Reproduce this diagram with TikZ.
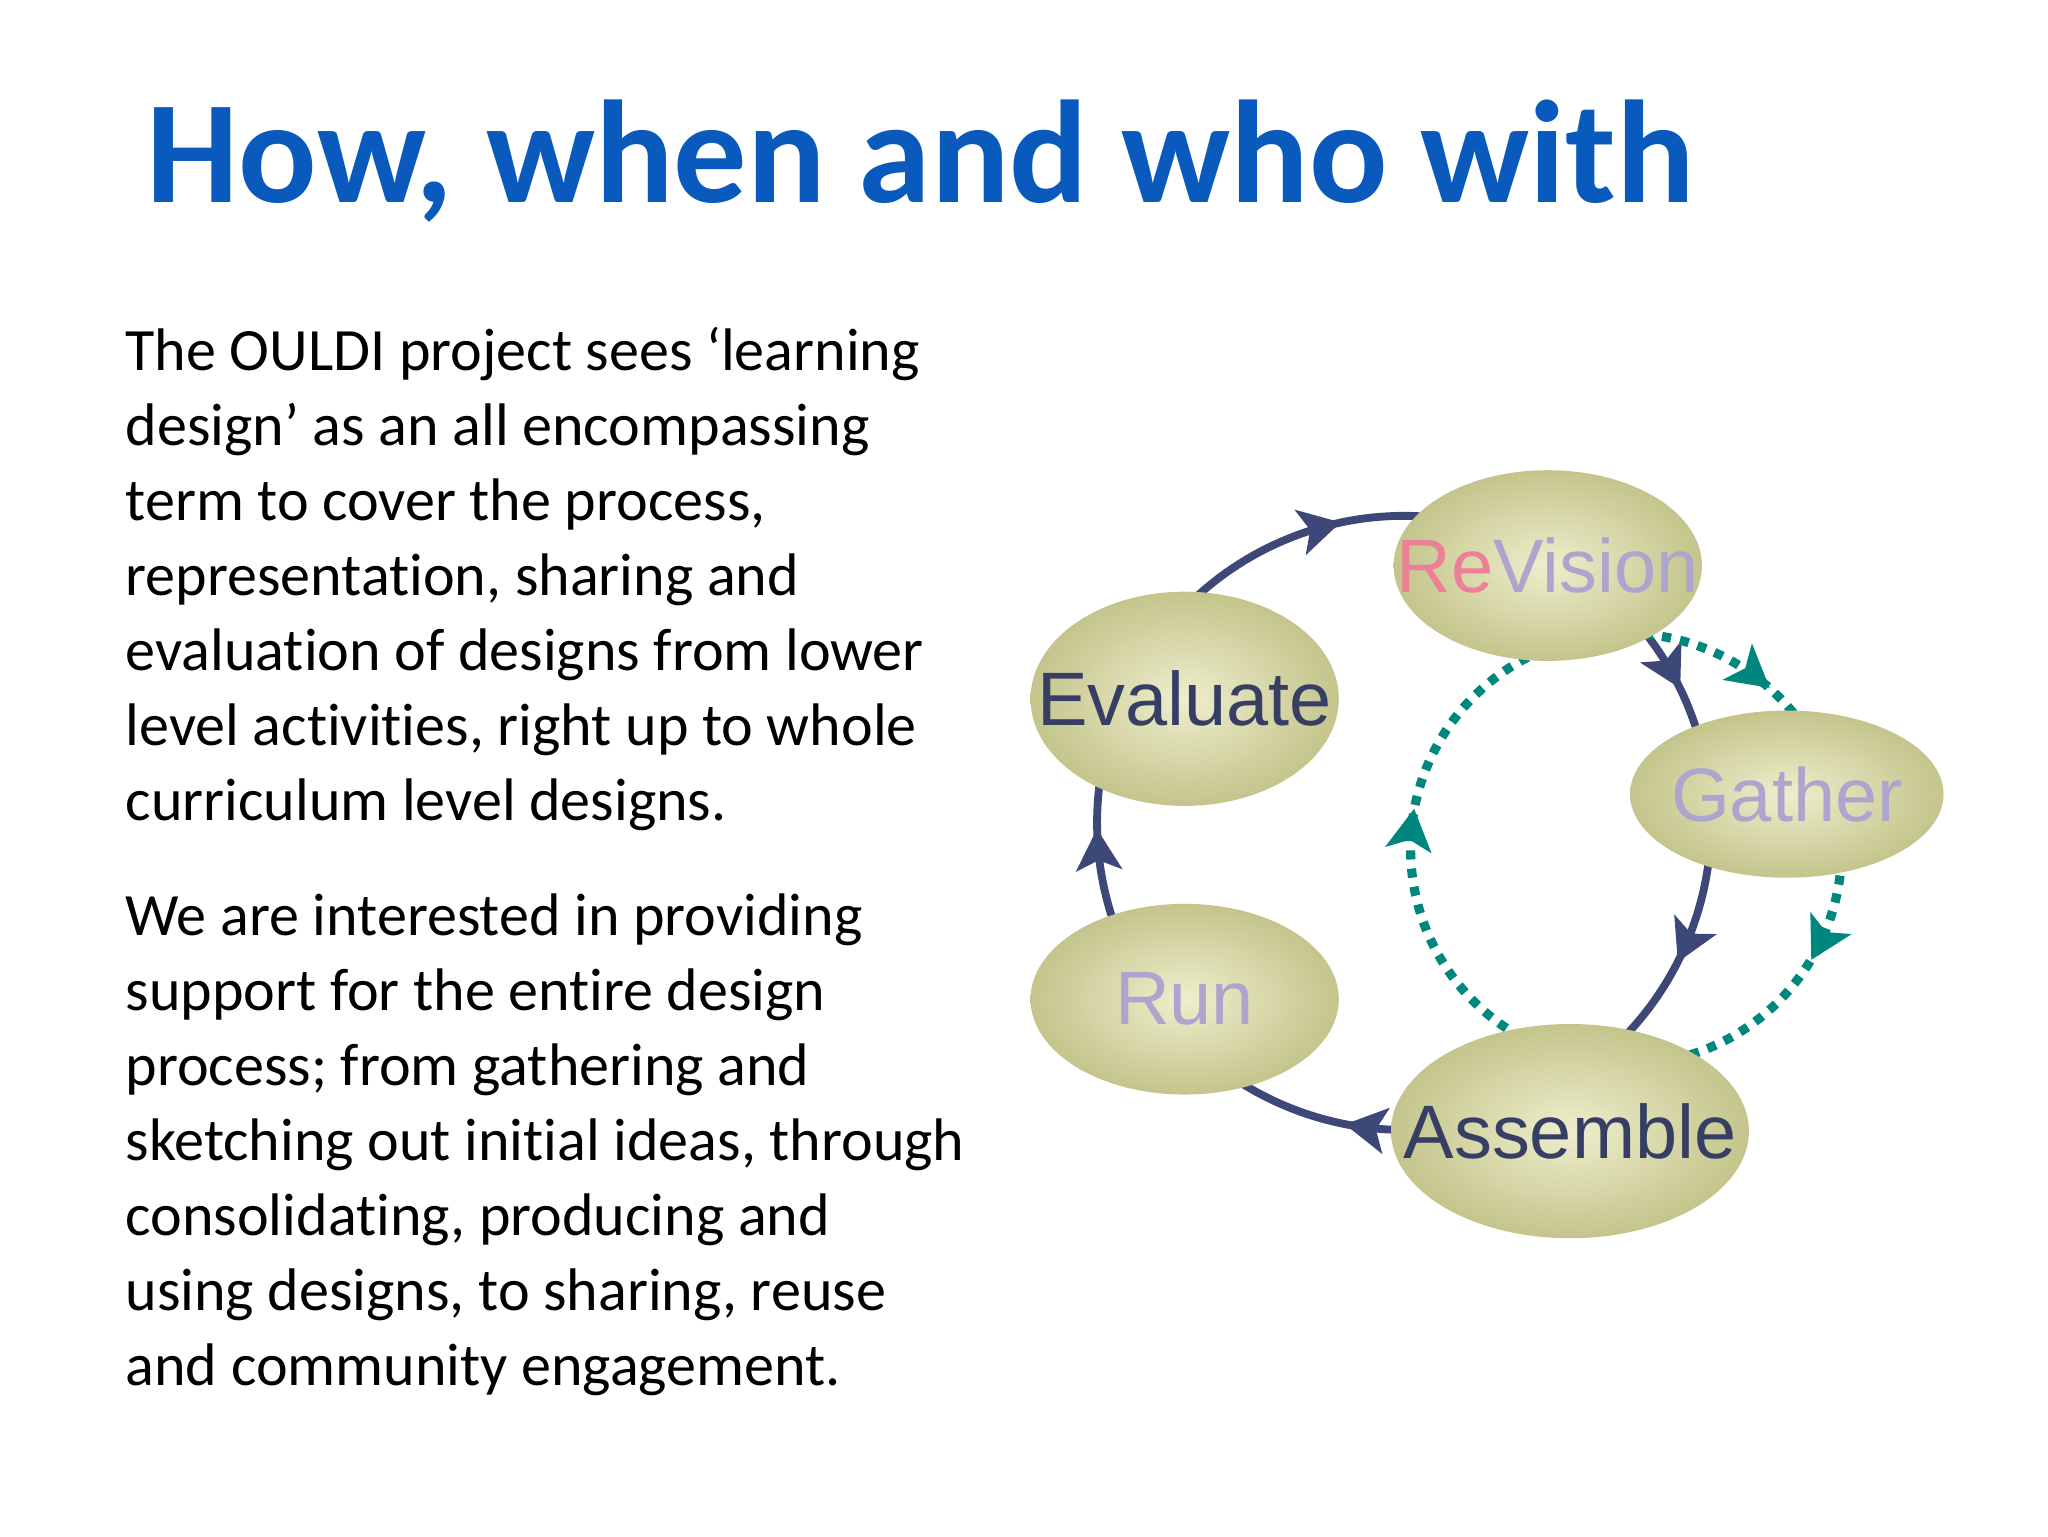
\documentclass[tikz,border=0pt]{standalone}
\usepackage{fontspec}
\setmainfont{Carlito}[RawFeature=-liga]
\newfontfamily\arialf{Liberation Sans}
\usetikzlibrary{decorations.markings}
\definecolor{titleblue}{RGB}{10,90,190}
\definecolor{navy}{RGB}{62,72,120}
\definecolor{tealc}{RGB}{0,135,125}
\definecolor{khaki}{RGB}{196,196,140}
\definecolor{khakil}{RGB}{238,238,205}
\definecolor{lav}{RGB}{172,165,205}
\definecolor{pinkc}{RGB}{236,128,150}
\definecolor{dtext}{RGB}{55,62,100}
\tikzset{
  line/.style={anchor=base west,inner sep=0pt,font=\fontsize{46}{50}\selectfont},
  blobtext/.style={inner sep=0pt,font=\arialf\fontsize{58}{58}\selectfont},
  blobfill/.style={inner color=khakil,outer color=khaki},
}
\newcommand{\arrmark}[1]{\fill[#1] (8,0) -- (-24,-18) -- (-16,0) -- (-24,18) -- cycle;}
\begin{document}
\begin{tikzpicture}[x=1pt,y=-1pt]
\useasboundingbox (0,0) rectangle (1568,1176);
\fill[white] (0,0) rectangle (1568,1176);
\node[anchor=base west,inner sep=0pt,text=titleblue,font=\bfseries\fontsize{112}{112}\selectfont] (title) at (112,155) {How, when and who with};
\foreach \t [count=\i from 0] in {The OULDI project sees ‘learning,design’ as an all encompassing,term to cover the process{,},representation{,} sharing and,evaluation of designs from lower,level activities{,} right up to whole,curriculum level designs.}
  \node[line] (pa\i) at (96,{284+57.4*\i}) {\t};
\foreach \t [count=\i from 0] in {We are interested in providing,support for the entire design,process; from gathering and,sketching out initial ideas{,} through,consolidating{,} producing and,using designs{,} to sharing{,} reuse,and community engagement.}
  \node[line] (pb\i) at (96,{716+57.4*\i}) {\t};
% navy cycle
\draw[navy,line width=6pt,postaction={decorate},decoration={markings,
  mark=at position 0.047 with {\arrmark{navy}},
  mark=at position 0.267 with {\arrmark{navy}},
  mark=at position 0.478 with {\arrmark{navy}},
  mark=at position 0.625 with {\arrmark{navy}},
  mark=at position 0.831 with {\arrmark{navy}}}]
  (1075,630) ++(-200:235) arc[start angle=-200,end angle=160,radius=235];
% teal dotted cycle
\draw[tealc,line width=7pt,dash pattern=on 7pt off 7pt,postaction={decorate},decoration={markings,
  mark=at position 0.122 with {\arrmark{tealc}},
  mark=at position 0.342 with {\arrmark{tealc}},
  mark=at position 0.786 with {\arrmark{tealc}}}]
  (1245,650) ++(-95:165) arc[start angle=-95,end angle=265,radius=165];
% ellipses
\shade[blobfill] (1185,433) ellipse[x radius=118,y radius=73];
\shade[blobfill] (907,535) ellipse[x radius=118,y radius=82];
\shade[blobfill] (1368,608) ellipse[x radius=120,y radius=64];
\shade[blobfill] (907,765) ellipse[x radius=118,y radius=73];
\shade[blobfill] (1202,866) ellipse[x radius=137,y radius=82];
\node[blobtext] (rev) at (1185,433) {\textcolor{pinkc}{Re}\textcolor{lav}{Vision}};
\node[blobtext,text=dtext] (eva) at (907,535) {Evaluate};
\node[blobtext,text=lav] (gat) at (1368,608) {Gather};
\node[blobtext,text=lav] (run) at (907,765) {Run};
\node[blobtext,text=dtext] (ass) at (1202,866) {Assemble};
\end{tikzpicture}
\end{document}
